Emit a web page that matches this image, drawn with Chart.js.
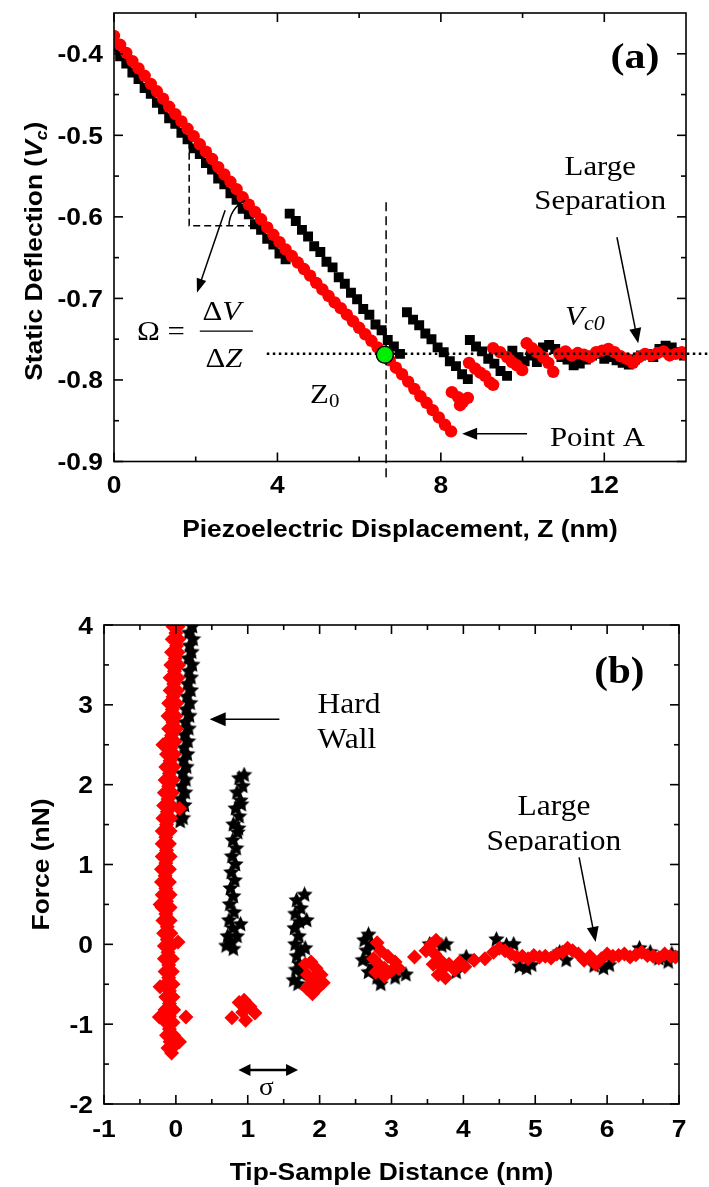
<!DOCTYPE html>
<html>
<head>
<meta charset="utf-8">
<script src="https://cdn.jsdelivr.net/npm/chart.js@4.4.0/dist/chart.umd.min.js"></script>
<style>
body { margin: 0; background: #fff; }
#wrapA { position: absolute; left: 0; top: 0; width: 709px; height: 560px; }
#wrapB { position: absolute; left: 0; top: 560px; width: 709px; height: 627px; }
</style>
</head>
<body>
<div id="wrapA"><canvas id="grafA" width="709" height="560"></canvas></div>
<div id="wrapB"><canvas id="grafB" width="709" height="627"></canvas></div>
<script>
"use strict";

// ---- panel (a): static deflection vs piezo displacement ----
const xTicksA = [0, 4, 8, 12];
const xMinorA = [2, 6, 10];
const yTicksA = [-0.4, -0.5, -0.6, -0.7, -0.8, -0.9];
const yMinorA = [-0.45, -0.55, -0.65, -0.75, -0.85];

// black squares (approach)
const blackA = [
  [0.00,-0.392],[0.15,-0.403],[0.30,-0.412],[0.45,-0.423],[0.60,-0.431],[0.75,-0.442],[0.90,-0.449],
  [1.05,-0.460],[1.20,-0.468],[1.35,-0.479],[1.50,-0.486],[1.65,-0.497],[1.80,-0.505],[1.95,-0.516],
  [2.10,-0.523],[2.25,-0.534],[2.40,-0.542],[2.55,-0.553],[2.70,-0.560],[2.85,-0.571],[3.00,-0.579],
  [3.15,-0.590],[3.30,-0.597],[3.45,-0.609],[3.60,-0.616],[3.75,-0.627],[3.90,-0.634],[4.05,-0.645],
  [4.20,-0.652],
  [4.30,-0.596],[4.45,-0.605],[4.60,-0.616],[4.75,-0.624],[4.90,-0.636],[5.05,-0.643],[5.20,-0.655],
  [5.35,-0.662],[5.50,-0.674],[5.65,-0.682],[5.80,-0.693],[5.95,-0.701],[6.10,-0.713],[6.25,-0.720],
  [6.40,-0.732],[6.55,-0.739],[6.70,-0.751],[6.85,-0.759],[7.00,-0.768],
  [7.17,-0.717],[7.32,-0.726],[7.47,-0.733],[7.62,-0.743],[7.77,-0.750],[7.92,-0.760],[8.07,-0.766],
  [8.22,-0.777],[8.37,-0.783],[8.52,-0.793],[8.66,-0.799],
  [8.71,-0.751],[8.86,-0.759],[9.01,-0.765],[9.16,-0.774],[9.31,-0.780],[9.46,-0.789],[9.62,-0.795],
  [9.75,-0.764],[9.90,-0.772],[10.05,-0.777],[10.20,-0.770],[10.35,-0.778],[10.50,-0.760],[10.65,-0.757],
  [10.80,-0.762],[10.95,-0.772],[11.10,-0.775],[11.25,-0.782],[11.40,-0.780],[11.55,-0.775],[11.70,-0.770],
  [11.85,-0.768],[12.00,-0.774],[12.15,-0.772],[12.30,-0.776],[12.45,-0.779],[12.60,-0.781],[12.75,-0.775],
  [12.90,-0.770],[13.05,-0.768],[13.20,-0.772],[13.35,-0.762],[13.50,-0.758],[13.65,-0.760],[13.80,-0.766],
  [13.95,-0.770]
];

// red circles (retract)
const redA = [
  [0.00,-0.378],[0.15,-0.389],[0.30,-0.399],[0.45,-0.409],[0.60,-0.418],[0.75,-0.427],[0.90,-0.437],
  [1.05,-0.446],[1.20,-0.455],[1.35,-0.465],[1.50,-0.474],[1.65,-0.483],[1.80,-0.492],[1.95,-0.501],
  [2.10,-0.511],[2.25,-0.520],[2.40,-0.529],[2.55,-0.539],[2.70,-0.548],[2.85,-0.557],[3.00,-0.566],
  [3.15,-0.576],[3.30,-0.585],[3.45,-0.594],[3.60,-0.603],[3.75,-0.613],[3.90,-0.622],[4.05,-0.631],
  [4.20,-0.640],[4.35,-0.648],[4.50,-0.656],[4.65,-0.664],[4.80,-0.672],[4.95,-0.681],[5.10,-0.689],
  [5.25,-0.697],[5.40,-0.705],[5.55,-0.712],[5.70,-0.720],[5.85,-0.728],[6.00,-0.736],[6.15,-0.744],
  [6.30,-0.752],[6.45,-0.760],[6.60,-0.768],[6.75,-0.776],[6.90,-0.785],[7.05,-0.793],[7.20,-0.802],
  [7.35,-0.811],[7.50,-0.820],[7.65,-0.828],[7.80,-0.837],[7.95,-0.846],[8.10,-0.855],[8.25,-0.863],
  [8.27,-0.815],[8.42,-0.821],[8.54,-0.827],[8.66,-0.822],[8.47,-0.831],
  [8.69,-0.779],[8.84,-0.786],[8.96,-0.791],[9.08,-0.795],[9.20,-0.803],[9.28,-0.806],
  [9.28,-0.761],[9.45,-0.766],[9.62,-0.772],[9.74,-0.778],[9.86,-0.782],[9.99,-0.788],
  [10.10,-0.755],[10.23,-0.761],[10.35,-0.766],[10.50,-0.772],[10.63,-0.779],[10.75,-0.790],
  [10.90,-0.768],[11.05,-0.765],[11.20,-0.770],[11.35,-0.767],[11.50,-0.769],[11.65,-0.772],[11.80,-0.766],
  [11.95,-0.764],[12.10,-0.762],[12.25,-0.766],[12.40,-0.771],[12.55,-0.774],[12.70,-0.779],[12.85,-0.772],
  [13.00,-0.768],[13.15,-0.770],[13.30,-0.767],[13.45,-0.765],[13.60,-0.770],[13.75,-0.768],[13.90,-0.766],
  [14.00,-0.769]
];

const greenA = [[6.63, -0.769]];
const vc0 = -0.768;   // dotted level
const z0 = 6.66;      // dashed position

// ---- panel (b): force vs tip-sample distance ----
const xTicksB = [-1, 0, 1, 2, 3, 4, 5, 6, 7];
const xMinorB = [-0.5, 0.5, 1.5, 2.5, 3.5, 4.5, 5.5, 6.5];
const yTicksB = [4, 3, 2, 1, 0, -1, -2];
const yMinorB = [3.5, 2.5, 1.5, 0.5, -0.5, -1.5];

const redB = [
  // contact column near zero distance
  [0.03,3.98],[-0.04,3.98],[0.00,3.90],[-0.05,3.82],[0.04,3.82],[0.01,3.74],[-0.06,3.66],[0.03,3.66],
  [-0.01,3.58],[0.04,3.50],[-0.07,3.50],[-0.02,3.42],[0.03,3.34],[-0.08,3.34],[-0.03,3.26],[0.02,3.18],
  [-0.08,3.18],[-0.04,3.10],[0.01,3.02],[-0.10,3.02],[-0.05,2.94],[0.00,2.86],[-0.11,2.86],[-0.04,2.78],
  [-0.10,2.70],[0.01,2.70],[-0.06,2.62],[-0.12,2.54],[-0.01,2.54],[-0.07,2.46],[-0.02,2.38],[-0.13,2.38],
  [-0.08,2.30],[-0.14,2.22],[-0.03,2.22],[-0.09,2.14],[-0.04,2.06],[-0.15,2.06],[-0.10,1.98],[-0.16,1.90],
  [-0.05,1.90],[-0.11,1.82],[-0.06,1.74],[-0.17,1.74],[-0.12,1.66],[-0.18,1.58],[-0.07,1.58],[-0.13,1.50],
  [-0.08,1.42],[-0.19,1.42],[-0.14,1.34],[-0.19,1.26],[-0.09,1.26],[-0.13,1.18],[-0.08,1.10],[-0.19,1.10],
  [-0.14,1.02],[-0.20,0.94],[-0.09,0.94],[-0.15,0.86],[-0.09,0.78],[-0.20,0.78],[-0.14,0.70],[-0.19,0.62],
  [-0.08,0.62],[-0.13,0.54],[-0.08,0.46],[-0.19,0.46],[-0.14,0.38],[-0.18,0.30],[-0.08,0.30],[-0.12,0.22],
  [-0.07,0.14],[-0.17,0.14],[-0.12,0.06],[-0.16,-0.02],[-0.06,-0.02],[-0.11,-0.10],[-0.05,-0.18],
  [-0.16,-0.18],[-0.10,-0.26],[-0.15,-0.34],[-0.05,-0.34],[-0.10,-0.42],[-0.04,-0.50],[-0.15,-0.50],
  [-0.09,-0.58],[-0.14,-0.66],[-0.04,-0.66],[-0.09,-0.74],[-0.03,-0.82],[-0.15,-0.82],[-0.09,-0.90],
  [-0.14,-0.98],[-0.04,-0.98],[-0.09,-1.06],[-0.03,-1.14],[-0.13,-1.14],[-0.08,-1.22],[-0.05,-1.30],
  [-0.11,-1.30],[-0.06,-1.36],
  [0.14,-0.91],[-0.23,-0.91],[0.05,-1.22],[-0.22,-0.53],[0.03,0.03],[-0.22,0.50],[0.05,1.70],[-0.18,2.50],
  // clusters
  [0.78,-0.92],[0.88,-0.73],[0.93,-0.85],[0.97,-0.95],[1.03,-0.78],[1.10,-0.86],[0.95,-0.70],
  [1.80,-0.25],[1.88,-0.22],[1.95,-0.30],[1.83,-0.38],[1.92,-0.42],[2.02,-0.38],[1.87,-0.50],[1.97,-0.55],
  [2.05,-0.48],[1.90,-0.62],[1.82,-0.55],
  [2.80,0.02],[2.85,-0.08],[2.75,-0.18],[2.82,-0.25],[2.90,-0.30],[3.00,-0.33],[3.10,-0.30],[2.90,-0.40],
  [2.78,-0.35],[3.05,-0.22],[2.95,-0.15],[3.32,-0.16],
  [3.48,-0.08],[3.55,0.00],[3.62,0.05],[3.60,-0.12],[3.68,-0.20],[3.72,-0.30],[3.65,-0.38],[3.75,-0.42],
  [3.80,-0.25],[3.88,-0.32],[3.95,-0.22],[4.02,-0.28],[3.58,-0.25],[4.15,-0.20],[4.30,-0.18],
  // large separation
  [4.42,-0.10],[4.50,-0.05],[4.58,-0.08],[4.66,-0.12],[4.74,-0.16],[4.82,-0.15],[4.90,-0.18],[4.98,-0.14],
  [5.06,-0.16],[5.14,-0.15],[5.22,-0.17],[5.30,-0.12],[5.38,-0.10],[5.45,-0.05],[5.52,-0.08],[5.60,-0.12],
  [5.68,-0.20],[5.76,-0.15],[5.84,-0.25],[5.92,-0.18],[6.00,-0.12],[6.08,-0.15],[6.16,-0.14],[6.24,-0.12],
  [6.32,-0.16],[6.40,-0.13],[6.48,-0.10],[6.56,-0.14],[6.64,-0.15],[6.72,-0.17],[6.80,-0.12],[6.88,-0.15],
  [6.95,-0.16]
];

const blackB = [
  [0.23,3.98],[0.18,3.90],[0.24,3.82],[0.19,3.74],[0.22,3.66],[0.17,3.58],[0.23,3.50],[0.18,3.42],
  [0.21,3.34],[0.16,3.26],[0.21,3.18],[0.15,3.10],[0.20,3.02],[0.14,2.94],[0.19,2.86],[0.13,2.78],
  [0.18,2.70],[0.12,2.62],[0.17,2.54],[0.11,2.46],[0.16,2.38],[0.10,2.30],[0.15,2.22],[0.09,2.14],
  [0.14,2.06],[0.08,1.98],[0.13,1.90],[0.07,1.82],[0.12,1.74],[0.07,1.66],[0.10,1.58],[0.06,1.54],
  [0.95,2.12],[0.88,2.08],[0.93,1.98],[0.85,1.90],[0.90,1.80],[0.83,1.70],[0.88,1.60],[0.80,1.50],
  [0.86,1.40],[0.79,1.30],[0.84,1.20],[0.78,1.10],[0.83,1.00],[0.77,0.90],[0.82,0.80],[0.76,0.70],
  [0.80,0.60],[0.75,0.50],[0.81,0.40],[0.74,0.30],[0.79,0.20],[0.72,0.10],[0.78,0.02],[0.70,-0.02],
  [0.80,-0.06],[0.85,0.10],[0.90,0.25],[0.87,1.45],[0.91,1.75],
  [1.79,0.62],[1.68,0.55],[1.74,0.45],[1.66,0.38],[1.72,0.28],[1.65,0.20],[1.71,0.10],[1.66,0.00],
  [1.74,-0.08],[1.68,-0.15],[1.72,-0.25],[1.67,-0.32],[1.75,-0.38],[1.64,-0.45],[1.70,-0.50],[1.82,0.30],
  [1.80,-0.05],
  [2.68,0.12],[2.62,0.05],[2.72,0.00],[2.65,-0.08],[2.70,-0.18],[2.75,-0.28],[2.68,-0.35],[2.80,-0.42],
  [2.85,-0.50],[2.60,-0.20],
  [3.53,0.00],[3.62,0.02],[3.70,-0.02],[3.76,0.00],[4.04,-0.16],[3.90,-0.35],[4.46,0.06],[4.60,-0.01],
  [4.70,0.00],[4.78,-0.28],[4.88,-0.30],[4.95,-0.26],[5.34,-0.10],[5.43,-0.20],[5.82,-0.27],[5.95,-0.30],
  [6.03,-0.26],[6.45,-0.05],[6.60,-0.10],[6.72,-0.18],[6.85,-0.22],[6.90,-0.12],[3.20,-0.38],[3.05,-0.42]
];

const SANS = '"Liberation Sans", Arial, sans-serif';
const SERIF = '"Liberation Serif", "Times New Roman", serif';
const SX = 1.1; // wide lettering of the original
const FS = "bold 24px " + SANS;

function pts(arr) { return arr.map(p => ({ x: p[0], y: p[1] })); }

function starImage(size) {
  const c = document.createElement("canvas");
  c.width = c.height = size;
  const g = c.getContext("2d");
  g.beginPath();
  for (let i = 0; i < 10; i++) {
    const r = i % 2 ? size * 0.24 : size * 0.5;
    const a = -Math.PI / 2 + i * Math.PI / 5;
    g.lineTo(size / 2 + r * Math.cos(a), size / 2 + r * Math.sin(a));
  }
  g.closePath();
  g.fillStyle = "#000";
  g.fill();
  return c;
}

function rich(ctx, runs, x, y, align, sx) {
  let w = 0;
  runs.forEach(r => { ctx.font = r[1]; w += ctx.measureText(r[0]).width; });
  w *= sx;
  let cx = align === "center" ? x - w / 2 : align === "right" ? x - w : x;
  ctx.textAlign = "left";
  ctx.textBaseline = "alphabetic";
  runs.forEach(r => {
    ctx.font = r[1];
    ctx.save();
    ctx.translate(cx, y + (r[2] || 0));
    ctx.scale(sx, 1);
    ctx.fillText(r[0], 0, 0);
    ctx.restore();
    cx += ctx.measureText(r[0]).width * sx;
  });
}

function line(ctx, x1, y1, x2, y2) {
  ctx.beginPath(); ctx.moveTo(x1, y1); ctx.lineTo(x2, y2); ctx.stroke();
}

function head(ctx, x1, y1, x2, y2, len, half) {
  const a = Math.atan2(y2 - y1, x2 - x1);
  const c = Math.cos(a), s = Math.sin(a);
  ctx.beginPath();
  ctx.moveTo(x2, y2);
  ctx.lineTo(x2 - len * c + half * s, y2 - len * s - half * c);
  ctx.lineTo(x2 - len * c - half * s, y2 - len * s + half * c);
  ctx.closePath();
  ctx.fill();
}

function arrow(ctx, x1, y1, x2, y2, len, half) {
  const a = Math.atan2(y2 - y1, x2 - x1);
  line(ctx, x1, y1, x2 - len * 0.7 * Math.cos(a), y2 - len * 0.7 * Math.sin(a));
  head(ctx, x1, y1, x2, y2, len, half);
}

function drawFrame(chart, t) {
  const ctx = chart.ctx, a = chart.chartArea;
  const X = v => chart.scales.x.getPixelForValue(v);
  const Y = v => chart.scales.y.getPixelForValue(v);
  ctx.save();
  ctx.strokeStyle = "#000";
  ctx.fillStyle = "#000";
  ctx.lineWidth = 1.6;
  ctx.setLineDash([]);
  ctx.strokeRect(a.left, a.top, a.right - a.left, a.bottom - a.top);
  const tick = (v, len, horiz) => {
    if (horiz) {
      const x = X(v);
      line(ctx, x, a.bottom, x, a.bottom - len);
      line(ctx, x, a.top, x, a.top + len);
    } else {
      const y = Y(v);
      line(ctx, a.left, y, a.left + len, y);
      line(ctx, a.right, y, a.right - len, y);
    }
  };
  t.xMajor.forEach(v => tick(v, 9, true));
  t.xMinor.forEach(v => tick(v, 5, true));
  t.yMajor.forEach(v => tick(v, 9, false));
  t.yMinor.forEach(v => tick(v, 5, false));
  t.xMajor.forEach(v => rich(ctx, [[t.xFmt(v), FS]], X(v), a.bottom + t.xLabDy, "center", SX));
  t.yMajor.forEach(v => rich(ctx, [[t.yFmt(v), FS]], a.left - 11, Y(v) + 8.5, "right", SX));
  rich(ctx, [[t.xTitle, FS]], (a.left + a.right) / 2, a.bottom + t.xTitleDy, "center", SX);
  ctx.save();
  ctx.translate(t.yTitleX, (a.top + a.bottom) / 2 + t.yTitleDy);
  ctx.rotate(-Math.PI / 2);
  rich(ctx, t.yTitle, 0, 0, "center", SX);
  ctx.restore();
  ctx.restore();
}

const plugA = {
  id: "plugA",
  afterDatasetDraw(chart, args) {
    if (args.index !== 1) return;
    const ctx = chart.ctx;
    const X = v => chart.scales.x.getPixelForValue(v);
    const Y = v => chart.scales.y.getPixelForValue(v);
    ctx.save();
    ctx.strokeStyle = "#000";
    ctx.lineWidth = 2.5;
    ctx.setLineDash([2.5, 3.5]);
    line(ctx, X(3.74), Y(vc0), X(14.56), Y(vc0));
    ctx.lineWidth = 1.5;
    ctx.setLineDash([9, 5]);
    line(ctx, X(z0), Y(-0.582), X(z0), Y(-0.925));
    ctx.restore();
  },
  afterDraw(chart) {
    drawFrame(chart, {
      xMajor: xTicksA, xMinor: xMinorA, yMajor: yTicksA, yMinor: yMinorA,
      xFmt: v => String(v), yFmt: v => v.toFixed(1),
      xLabDy: 31, xTitleDy: 75.5,
      xTitle: "Piezoelectric Displacement, Z (nm)",
      yTitleX: 42, yTitleDy: 14,
      yTitle: [["Static Deflection (", FS], ["V", "italic bold 24px " + SANS],
               ["c", "italic bold 16px " + SANS, 5], [")", FS]]
    });
    const ctx = chart.ctx;
    const X = v => chart.scales.x.getPixelForValue(v);
    const Y = v => chart.scales.y.getPixelForValue(v);
    ctx.save();
    ctx.strokeStyle = "#000";
    ctx.fillStyle = "#000";
    // slope triangle
    ctx.lineWidth = 1.5;
    ctx.setLineDash([7, 4]);
    ctx.beginPath();
    ctx.moveTo(X(1.84), Y(-0.508));
    ctx.lineTo(X(1.84), Y(-0.611));
    ctx.lineTo(X(3.5), Y(-0.611));
    ctx.stroke();
    ctx.setLineDash([]);
    ctx.beginPath();
    ctx.arc(X(3.5), Y(-0.611), 28, Math.PI, Math.PI + 1.13);
    ctx.stroke();
    arrow(ctx, X(2.72), Y(-0.592), X(2.03), Y(-0.693), 14, 5);
    // Omega = dV/dZ
    const F = "28px " + SERIF, FI = "italic 28px " + SERIF;
    rich(ctx, [["\u03A9 =", F]], X(0.56), Y(-0.751), "left", 1.1);
    ctx.lineWidth = 1.3;
    line(ctx, X(2.10), Y(-0.740), X(3.40), Y(-0.740));
    rich(ctx, [["\u0394", F], ["V", FI]], X(2.64), Y(-0.727), "center", 1.1);
    rich(ctx, [["\u0394", F], ["Z", FI]], X(2.69), Y(-0.784), "center", 1.1);
    // Z0, Vc0
    rich(ctx, [["Z", F], ["0", "19px " + SERIF, 4]], X(4.80), Y(-0.828), "left", 1.1);
    rich(ctx, [["V", FI], ["c0", "italic 20px " + SERIF, 5]], X(11.04), Y(-0.733), "left", 1.1);
    // Large Separation
    rich(ctx, [["Large", F]], X(11.9), Y(-0.549), "center", 1.1);
    rich(ctx, [["Separation", F]], X(11.9), Y(-0.590), "center", 1.1);
    ctx.lineWidth = 1.5;
    arrow(ctx, X(12.31), Y(-0.625), X(12.83), Y(-0.755), 15, 6);
    // Point A
    rich(ctx, [["Point A", F]], X(10.67), Y(-0.881), "left", 1.1);
    arrow(ctx, X(10.11), Y(-0.866), X(8.52), Y(-0.866), 15, 6);
    // panel label
    rich(ctx, [["(a)", "bold 35px " + SERIF]], X(12.75), Y(-0.417), "center", 1.2);
    ctx.restore();
  }
};

const plugB = {
  id: "plugB",
  afterDraw(chart) {
    drawFrame(chart, {
      xMajor: xTicksB, xMinor: xMinorB, yMajor: yTicksB, yMinor: yMinorB,
      xFmt: v => String(v), yFmt: v => String(v),
      xLabDy: 33, xTitleDy: 76,
      xTitle: "Tip-Sample Distance (nm)",
      yTitleX: 49, yTitleDy: 0,
      yTitle: [["Force (nN)", FS]]
    });
    const ctx = chart.ctx;
    const X = v => chart.scales.x.getPixelForValue(v);
    const Y = v => chart.scales.y.getPixelForValue(v);
    ctx.save();
    ctx.strokeStyle = "#000";
    ctx.fillStyle = "#000";
    const F = "30px " + SERIF;
    rich(ctx, [["Hard", F]], X(1.97), Y(2.90), "left", 1.05);
    rich(ctx, [["Wall", F]], X(1.97), Y(2.46), "left", 1.05);
    ctx.lineWidth = 1.5;
    arrow(ctx, X(1.44), Y(2.82), X(0.47), Y(2.82), 16, 7);
    rich(ctx, [["Large", F]], X(5.26), Y(1.62), "center", 1.05);
    ctx.save();
    ctx.beginPath();
    ctx.rect(0, 0, 709, Y(1.18) + 1);
    ctx.clip();
    rich(ctx, [["Separation", F]], X(5.26), Y(1.18), "center", 1.05);
    ctx.restore();
    arrow(ctx, X(5.61), Y(1.09), X(5.84), Y(0.03), 15, 6);
    // sigma
    ctx.lineWidth = 2.5;
    line(ctx, X(0.87) + 8, Y(-1.574), X(1.70) - 8, Y(-1.574));
    head(ctx, X(1.70), Y(-1.574), X(0.87), Y(-1.574), 12, 6);
    head(ctx, X(0.87), Y(-1.574), X(1.70), Y(-1.574), 12, 6);
    rich(ctx, [["\u03C3", "26px " + SERIF]], X(1.26), Y(-1.89), "center", 1.05);
    rich(ctx, [["(b)", "bold 38px " + SERIF]], X(6.17), Y(3.27), "center", 1.08);
    ctx.restore();
  }
};

function baseOptions(pad, xmin, xmax, ymin, ymax) {
  return {
    responsive: false,
    animation: false,
    devicePixelRatio: 1,
    events: [],
    layout: { padding: pad },
    plugins: { legend: { display: false }, tooltip: { enabled: false } },
    scales: {
      x: { type: "linear", min: xmin, max: xmax, display: false },
      y: { type: "linear", min: ymin, max: ymax, display: false }
    }
  };
}

let chartA = new Chart(document.getElementById("grafA"), {
  type: "scatter",
  data: {
    datasets: [
      { data: pts(greenA), pointStyle: "circle", pointRadius: 8.5, pointBackgroundColor: "#00ee00",
        pointBorderColor: "#000", pointBorderWidth: 1.5 },
      { data: pts(redA), pointStyle: "circle", pointRadius: 6.2, pointBackgroundColor: "#ff0000",
        pointBorderWidth: 0 },
      { data: pts(blackA), pointStyle: "rect", pointRadius: 7, pointBackgroundColor: "#000",
        pointBorderWidth: 0 }
    ]
  },
  options: baseOptions({ left: 114, top: 13, right: 23, bottom: 98.5 }, 0, 14, -0.9, -0.35),
  plugins: [plugA]
});

let chartB = new Chart(document.getElementById("grafB"), {
  type: "scatter",
  data: {
    datasets: [
      { data: pts(redB), pointStyle: "rectRot", pointRadius: 7.5, pointBackgroundColor: "#ff0000",
        pointBorderWidth: 0 },
      { data: pts(blackB), pointStyle: starImage(17), pointRadius: 8, pointBackgroundColor: "#000",
        pointBorderWidth: 0 }
    ]
  },
  options: baseOptions({ left: 104, top: 65, right: 30, bottom: 83 }, -1, 7, -2, 4),
  plugins: [plugB]
});
</script>
</body>
</html>
